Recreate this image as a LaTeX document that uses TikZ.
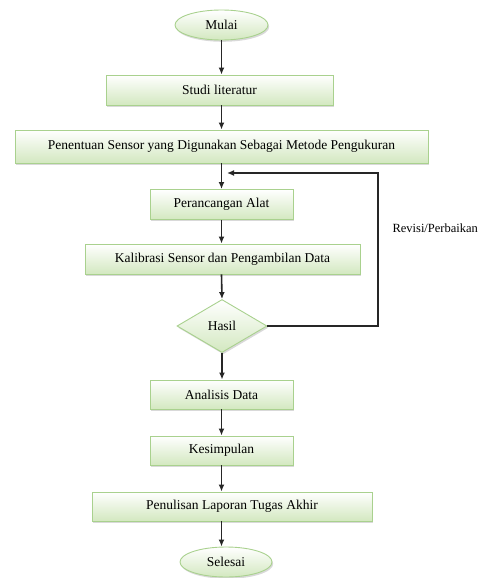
\documentclass[tikz,border=0pt]{standalone}
\usepackage{fontspec}
\setmainfont{Liberation Serif}
\usetikzlibrary{shapes.geometric,shadows,arrows.meta}
\definecolor{boxline}{HTML}{A9D18E}
\definecolor{boxfill}{HTML}{D3E8C0}
\tikzset{
  shape box/.style={draw=boxline, line width=0.9pt, top color=white, bottom color=boxfill,
    drop shadow={shadow xshift=1.2pt, shadow yshift=-1.8pt, opacity=.3},
    font=\fontsize{13.5}{16}\selectfont, inner sep=0pt},
  procbox/.style={shape box, rectangle, minimum width=#1, minimum height=30pt},
  termbox/.style={shape box, ellipse, minimum width=93pt, minimum height=30pt},
  decbox/.style={shape box, diamond, minimum width=90pt, minimum height=53pt},
  arr/.style={-{Latex[length=7pt,width=6pt]}, line width=1.6pt, black!85}
}
\begin{document}
\begin{tikzpicture}[x=1pt,y=-1pt]
\useasboundingbox (0,0) rectangle (489,578);
% flowchart nodes
\node[termbox] (mulai) at (221.5,25) {Mulai};
\node[procbox=227pt] (studi) at (219.5,90) {Studi literatur};
\node[procbox=413pt, minimum height=33pt] (penentuan) at (221.5,146.5) {Penentuan Sensor yang Digunakan Sebagai Metode Pengukuran};
\node[procbox=143pt] (rancang) at (221.5,204.5) {Perancangan Alat};
\node[procbox=275pt] (kalibrasi) at (222.5,259) {Kalibrasi Sensor dan Pengambilan Data};
\node[decbox] (hasil) at (222,326) {Hasil};
\node[procbox=143pt, minimum height=29pt] (analisis) at (221.5,394.5) {Analisis Data};
\node[procbox=143pt, minimum height=29pt] (simpul) at (221.5,450.5) {Kesimpulan};
\node[procbox=280pt, minimum height=29pt] (laporan) at (232,506.5) {Penulisan Laporan Tugas Akhir};
\node[termbox, minimum width=92pt] (selesai) at (226,562) {Selesai};
% connectors
\draw[arr] (mulai.south) -- (mulai.south |- studi.north);
\draw[arr] (mulai |- studi.south) -- (mulai |- penentuan.north);
\draw[arr] (mulai |- penentuan.south) -- (mulai |- rancang.north);
\draw[arr] (rancang.south) -- (rancang.south |- kalibrasi.north);
\draw[arr] (rancang |- kalibrasi.south) -- (hasil.north);
\draw[arr] (hasil.south) -- (hasil.south |- analisis.north);
\draw[arr] (analisis.south) -- (simpul.north);
\draw[arr] (simpul.south) -- (simpul.south |- laporan.north);
\draw[arr] (simpul |- laporan.south) -- (simpul |- selesai.north);
% feedback loop
\coordinate (balik) at (378,173);
\coordinate (masuk) at (227,173);
\draw[arr, line width=1.3pt] (hasil.east) -| (balik) -- (masuk);
\node[font=\fontsize{12.5}{15}\selectfont, anchor=west] (revisi) at (389,228) {Revisi/Perbaikan};
\end{tikzpicture}
\end{document}
